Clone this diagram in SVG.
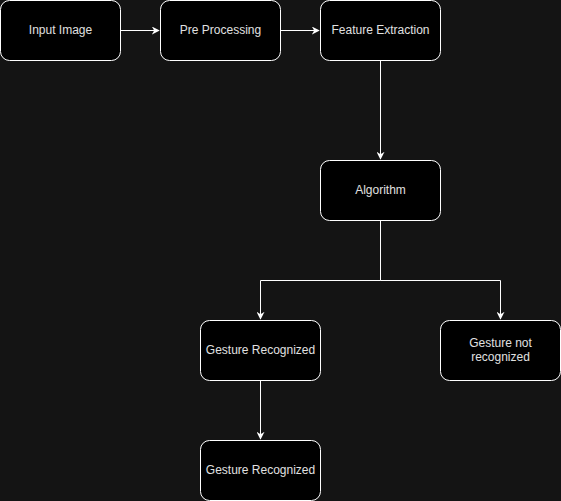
<svg xmlns="http://www.w3.org/2000/svg" width="561" height="501" viewBox="0 0 561 501">
<defs>
<style>
.node rect{fill:#000000;stroke:#ffffff;stroke-width:1}
.node text{fill:#e0e0e0;font-family:"Liberation Sans",Arial,sans-serif;font-size:12px;text-anchor:middle;dominant-baseline:central}
.edge{fill:none;stroke:#ffffff;stroke-width:1;marker-end:url(#arrow)}
</style>
<marker id="arrow" viewBox="0 0 10 10" refX="9" refY="5" markerWidth="8" markerHeight="8" markerUnits="userSpaceOnUse" orient="auto">
<path d="M0,0 L10,5 L0,10 L3,5 Z" fill="#ffffff"/>
</marker>
</defs>
<rect x="0" y="0" width="561" height="501" fill="#141414"/>
<g id="connectors">
<path class="edge" d="M120.5,30.5 L159,30.5"/>
<path class="edge" d="M280.5,30.5 L319,30.5"/>
<path class="edge" d="M380.5,60.5 L380.5,159"/>
<path class="edge" d="M380.5,220.5 L380.5,280.5 L260.5,280.5 L260.5,319"/>
<path class="edge" d="M380.5,220.5 L380.5,280.5 L500.5,280.5 L500.5,319"/>
<path class="edge" d="M260.5,380.5 L260.5,439"/>
</g>
<g id="input-image" class="node"><rect x="0.5" y="0.5" width="120" height="60" rx="9"/><text x="60.5" y="29.5">Input Image</text></g>
<g id="pre-processing" class="node"><rect x="160.5" y="0.5" width="120" height="60" rx="9"/><text x="220.5" y="29.5">Pre Processing</text></g>
<g id="feature-extraction" class="node"><rect x="320.5" y="0.5" width="120" height="60" rx="9"/><text x="380.5" y="29.5">Feature Extraction</text></g>
<g id="algorithm" class="node"><rect x="320.5" y="160.5" width="120" height="60" rx="9"/><text x="380.5" y="189.5">Algorithm</text></g>
<g id="gesture-recognized" class="node"><rect x="200.5" y="320.5" width="120" height="60" rx="9"/><text x="260.5" y="349.5">Gesture Recognized</text></g>
<g id="gesture-not-recognized" class="node"><rect x="440.5" y="320.5" width="120" height="60" rx="9"/><text x="500.5" y="342.5">Gesture not</text><text x="500.5" y="356.5">recognized</text></g>
<g id="gesture-recognized-2" class="node"><rect x="200.5" y="440.5" width="120" height="60" rx="9"/><text x="260.5" y="469.5">Gesture Recognized</text></g>
</svg>
